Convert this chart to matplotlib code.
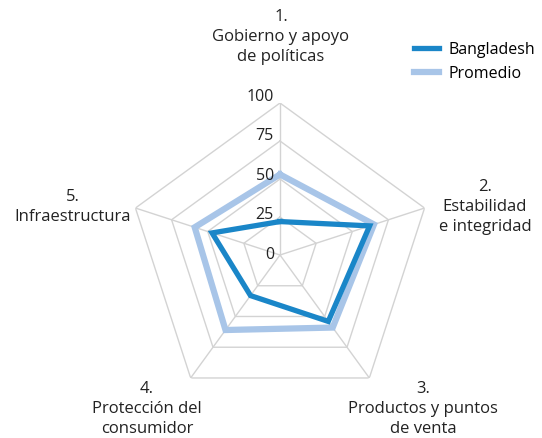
import numpy as np
import matplotlib
matplotlib.use('Agg')
import matplotlib.pyplot as plt

plt.rcParams['font.family'] = ['Open Sans', 'DejaVu Sans']

categories = ['1.\nGobierno y apoyo\nde políticas',
              '2.\nEstabilidad\ne integridad',
              '3.\nProductos y puntos\nde venta',
              '4.\nProtección del\nconsumidor',
              '5.\nInfraestructura']
bangladesh = [22, 62, 54, 33, 47]
promedio = [53, 65, 59, 61, 59]
levels = [0, 25, 50, 75, 100]

c_bgd = '#1a86c8'
c_avg = '#a8c5e8'
c_grid = '#d3d3d3'
c_text = '#222222'

W, H = 542, 439
fig = plt.figure(figsize=(W / 100, H / 100), dpi=100)

# center (280, 256) px, radius 152 px
cx, cy, R = 280, 256, 152
ax = fig.add_axes([(cx - R) / W, (H - cy - R) / H, 2 * R / W, 2 * R / H], polar=True)
ax.set_theta_offset(np.pi / 2)
ax.set_theta_direction(-1)
ax.set_ylim(0, 100)
ax.grid(False)
ax.spines['polar'].set_visible(False)
ax.set_xticks([])
ax.set_yticks([])
ax.patch.set_alpha(0)

n = len(categories)
angles = np.linspace(0, 2 * np.pi, n, endpoint=False)
closed = np.append(angles, angles[0])

# pentagon grid and spokes
for lv in levels[1:]:
    ax.plot(closed, [lv] * (n + 1), color=c_grid, lw=1, zorder=1)
for a in angles:
    ax.plot([a, a], [0, 100], color=c_grid, lw=1, zorder=1)

ax.plot(closed, promedio + promedio[:1], color=c_avg, lw=4.5, zorder=2,
        solid_joinstyle='miter', label='Promedio')
ax.plot(closed, bangladesh + bangladesh[:1], color=c_bgd, lw=3.8, zorder=3,
        solid_joinstyle='miter', label='Bangladesh')

# value labels sit a little above each ring, more so further out
for lv in levels:
    ax.annotate(str(lv), xy=(0, lv), xytext=(-6, 1 + lv * 0.06),
                textcoords='offset pixels', ha='right', va='center',
                fontsize=11.5, color=c_text)

# category labels (pixel centers of the middle line of each block)
label_pos = [(281, 37), (485, 207), (423, 409), (147, 409), (73, 207)]
for txt, (px, py) in zip(categories, label_pos):
    fig.text(px / W, 1 - py / H, txt, ha='center', va='center',
             fontsize=12, color=c_text, linespacing=1.3)

handles, labels = ax.get_legend_handles_labels()
fig.legend(handles[::-1], labels[::-1], loc='upper left',
           bbox_to_anchor=(408 / W, 1 - 36 / H), frameon=False,
           fontsize=11.5, handlelength=1.55, handletextpad=0.6,
           labelspacing=0.5, borderaxespad=0)

fig.savefig('out.png', dpi=100)
